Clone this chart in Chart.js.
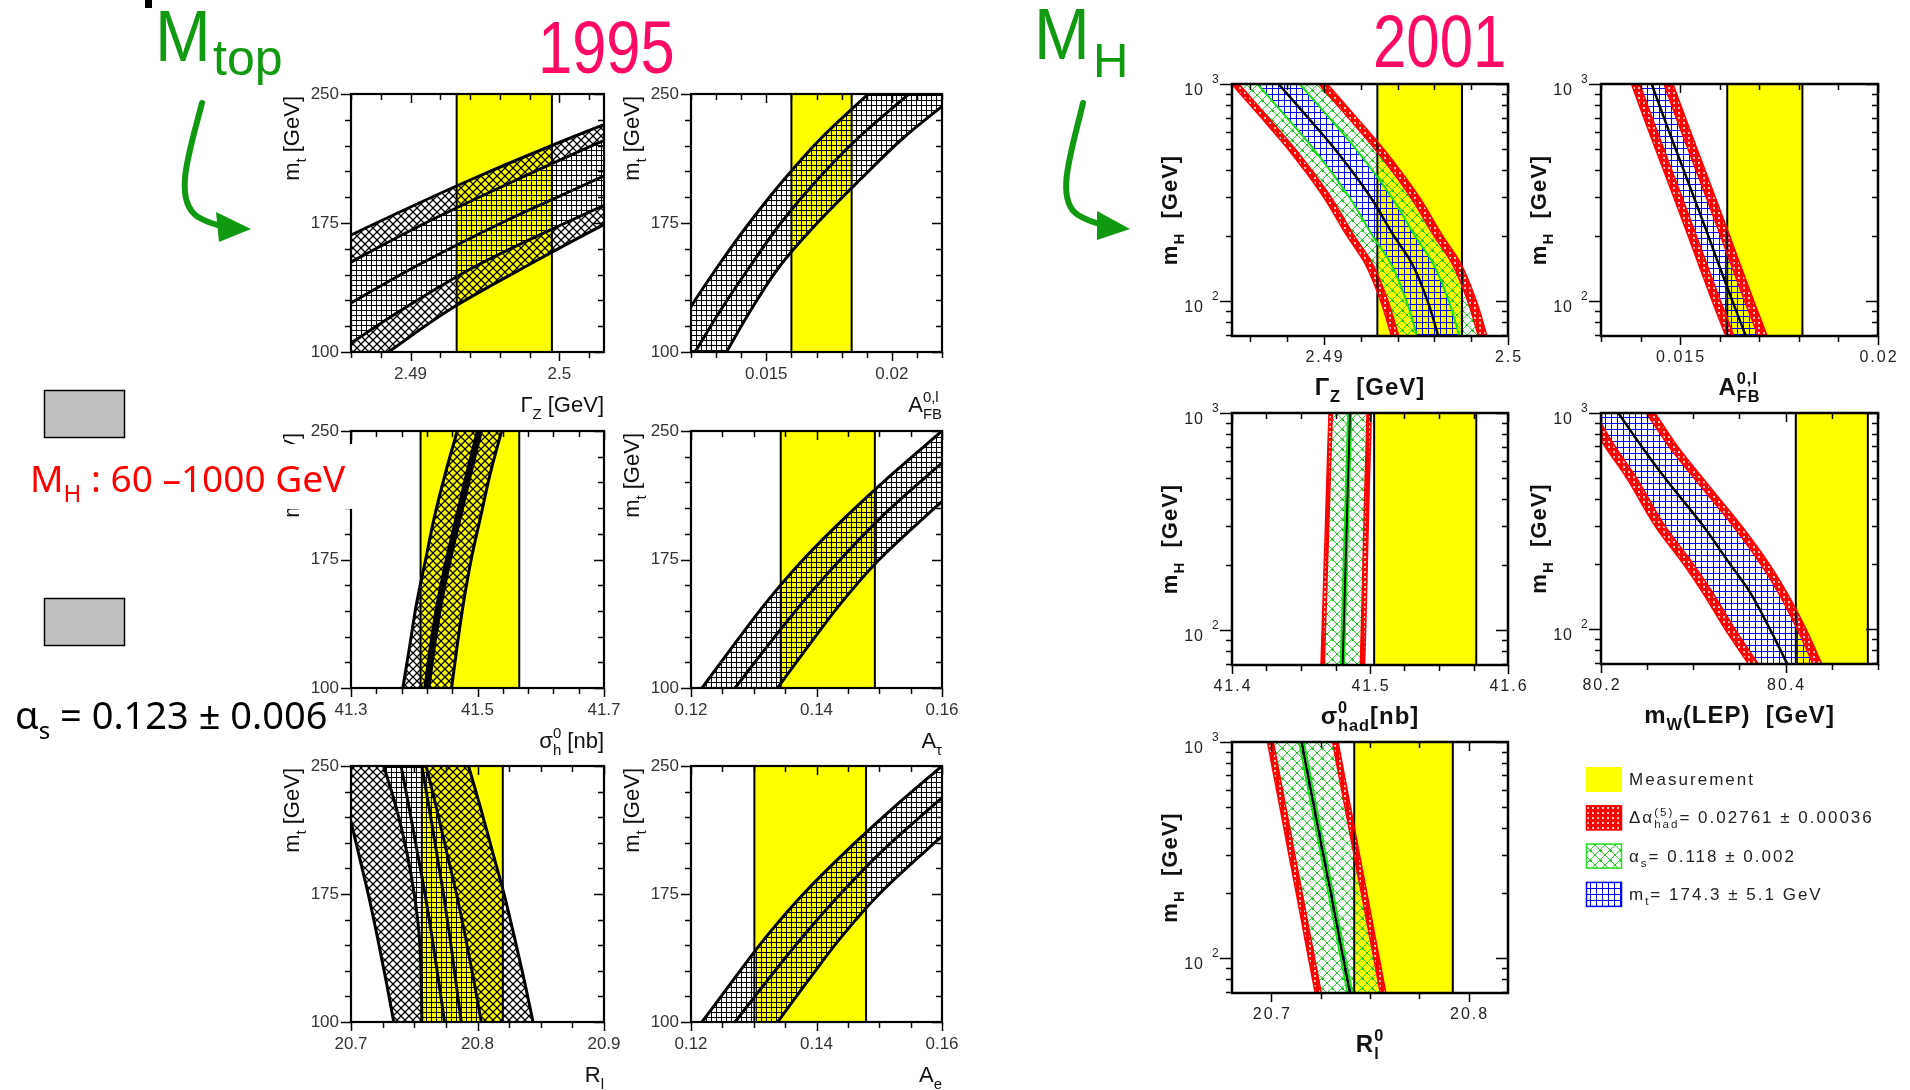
<!DOCTYPE html>
<html>
<head>
<meta charset="utf-8">
<title>Electroweak fits 1995 / 2001</title>
<script src="https://cdn.jsdelivr.net/npm/chart.js@4.4.1/dist/chart.umd.min.js"></script>
<style>
  html, body { margin: 0; padding: 0; background: #fff; }
  #page { position: relative; width: 1910px; height: 1090px; overflow: hidden; background: #fff; }
  #page canvas { position: absolute; }
  #deco { left: 0; top: 0; z-index: 5; pointer-events: none; }
</style>
</head>
<body>
<div id="page">
  <canvas id="deco" width="1910" height="1090"></canvas>
</div>
<script>
// y samples: m_t [GeV] for the 1995 plots, m_H [GeV] for the 2001 plots
const mt95 = [100, 125, 150, 175, 200, 225, 250];
const mH01 = [69, 100, 150, 200, 300, 500, 700, 1000];

// ---------- 1995 ----------
// Gamma_Z [GeV]
const gz95A = [2.4697, 2.4757, 2.4817, 2.4877, 2.4940, 2.5009, 2.5083];
const gz95B = [2.4750, 2.4802, 2.4855, 2.4910, 2.4971, 2.5035, 2.5100];
const gz95C = [2.4803, 2.4853, 2.4904, 2.4961, 2.5024, 2.5086, 2.5149];
const gz95D = [2.4851, 2.4895, 2.4944, 2.5004, 2.5068, 2.5133, 2.5200];
const gz95E = [2.4885, 2.4927, 2.4978, 2.5032, 2.5090, 2.5150, 2.5215];
const gz95Meas = [2.4931, 2.4995];
const gz95Ticks = [2.486, 2.488, 2.490, 2.492, 2.494, 2.496, 2.498, 2.500, 2.502];
const gz95Labels = [2.49, 2.5];

// A_FB^0,l
const afb95L = [0.01095, 0.01194, 0.01308, 0.01432, 0.01569, 0.01723, 0.01906];
const afb95C = [0.01216, 0.01321, 0.01436, 0.01558, 0.01702, 0.01870, 0.02068];
const afb95R = [0.01341, 0.01441, 0.01554, 0.01703, 0.01872, 0.02050, 0.02262];
const afb95Meas = [0.0160, 0.0184];
const afb95Ticks = [0.012, 0.013, 0.014, 0.015, 0.016, 0.017, 0.018, 0.019, 0.020, 0.021, 0.022];
const afb95Labels = [0.015, 0.02];

// sigma_h^0 [nb]
const sig95L = [41.382, 41.393, 41.404, 41.418, 41.432, 41.449, 41.468];
const sig95C = [41.420, 41.429, 41.440, 41.454, 41.470, 41.486, 41.503];
const sig95R = [41.459, 41.468, 41.478, 41.490, 41.505, 41.520, 41.538];
const sig95Meas = [41.410, 41.566];
const sig95Ticks = [41.30, 41.34, 41.38, 41.42, 41.46, 41.50, 41.54, 41.58, 41.62, 41.66, 41.70];
const sig95Labels = [41.3, 41.5, 41.7];

// A_tau and A_e share the same lepton asymmetry prediction
const al95L = [0.12176, 0.1268, 0.1320, 0.1379, 0.1447, 0.1521, 0.1600];
const al95C = [0.12702, 0.1323, 0.1378, 0.1438, 0.1504, 0.1580, 0.1659];
const al95R = [0.13379, 0.1388, 0.1440, 0.1500, 0.1573, 0.1651, 0.1732];
const atau95Meas = [0.1343, 0.1493];
const ae95Meas = [0.1301, 0.1479];
const al95Ticks = [0.12, 0.125, 0.13, 0.135, 0.14, 0.145, 0.15, 0.155, 0.16];
const al95Labels = [0.12, 0.14, 0.16];

// R_l
const rl95A = [20.7338, 20.7275, 20.7208, 20.7136, 20.7056, 20.6975, 20.6890];
const rl95B = [20.7560, 20.7555, 20.7540, 20.7500, 20.7440, 20.7360, 20.7259];
const rl95C = [20.7739, 20.7691, 20.7640, 20.7585, 20.7523, 20.7461, 20.7396];
const rl95D = [20.7871, 20.7827, 20.7781, 20.7731, 20.7675, 20.7619, 20.7560];
const rl95E = [20.8030, 20.7969, 20.7904, 20.7834, 20.7755, 20.7677, 20.7594];
const rl95F = [20.8439, 20.8368, 20.8291, 20.8210, 20.8118, 20.8026, 20.7929];
const rl95Meas = [20.756, 20.820];
const rl95Ticks = [20.7, 20.725, 20.75, 20.775, 20.8, 20.825, 20.85, 20.875, 20.9];
const rl95Labels = [20.7, 20.8, 20.9];

const mt95Ticks = [100, 115, 130, 145, 160, 175, 190, 205, 220, 235, 250];
const mt95Labels = [100, 175, 250];

// ---------- 2001 ----------
// Gamma_Z [GeV]
const gz01R1 = [2.49366, 2.49308, 2.49221, 2.49124, 2.48999, 2.48805, 2.48658, 2.48498];
const gz01R2 = [2.49406, 2.49348, 2.49261, 2.49164, 2.49039, 2.48845, 2.48698, 2.48538];
const gz01G1 = [2.49506, 2.49448, 2.49361, 2.49264, 2.49139, 2.48945, 2.48798, 2.48638];
const gz01C  = [2.49621, 2.49563, 2.49476, 2.49379, 2.49254, 2.49060, 2.48913, 2.48753];
const gz01G2 = [2.49736, 2.49678, 2.49591, 2.49494, 2.49369, 2.49175, 2.49028, 2.48868];
const gz01R3 = [2.49839, 2.49781, 2.49694, 2.49597, 2.49472, 2.49278, 2.49131, 2.48971];
const gz01R4 = [2.49886, 2.49828, 2.49741, 2.49644, 2.49519, 2.49325, 2.49178, 2.49018];
const gz01Meas = [2.4929, 2.4975];
const gz01Ticks = [2.486, 2.488, 2.490, 2.492, 2.494, 2.496, 2.498, 2.500];
const gz01Labels = [2.49, 2.5];

// A_FB^0,l
const afb01R1 = [0.01615, 0.01581, 0.01545, 0.01520, 0.01484, 0.01438, 0.01408, 0.01377];
const afb01R2 = [0.01636, 0.01602, 0.01566, 0.01541, 0.01505, 0.01459, 0.01429, 0.01398];
const afb01C  = [0.01666, 0.01632, 0.01596, 0.01571, 0.01535, 0.01489, 0.01459, 0.01428];
const afb01R3 = [0.01697, 0.01663, 0.01627, 0.01602, 0.01566, 0.01520, 0.01490, 0.01459];
const afb01R4 = [0.01720, 0.01686, 0.01650, 0.01625, 0.01589, 0.01543, 0.01513, 0.01482];
const afb01Meas = [0.01619, 0.01809];
const afb01Ticks = [0.013, 0.014, 0.015, 0.016, 0.017, 0.018, 0.019, 0.020];
const afb01Labels = [0.015, 0.02];

// sigma_had^0 [nb]
const sig01R1 = [41.4645, 41.4653, 41.4662, 41.4668, 41.4677, 41.4688, 41.4695, 41.4703];
const sig01R2 = [41.4669, 41.4677, 41.4686, 41.4692, 41.4701, 41.4712, 41.4719, 41.4727];
const sig01G1 = [41.4788, 41.4795, 41.4803, 41.4809, 41.4817, 41.4827, 41.4834, 41.4841];
const sig01C  = [41.4800, 41.4807, 41.4815, 41.4821, 41.4829, 41.4839, 41.4846, 41.4853];
const sig01G2 = [41.4812, 41.4819, 41.4827, 41.4833, 41.4841, 41.4851, 41.4858, 41.4865];
const sig01R3 = [41.4930, 41.4937, 41.4944, 41.4949, 41.4956, 41.4965, 41.4972, 41.4978];
const sig01R4 = [41.4961, 41.4968, 41.4975, 41.4980, 41.4987, 41.4996, 41.5003, 41.5009];
const sig01Meas = [41.503, 41.577];
const sig01Ticks = [41.4, 41.425, 41.45, 41.475, 41.5, 41.525, 41.55, 41.575, 41.6];
const sig01Labels = [41.4, 41.5, 41.6];

// m_W (LEP) [GeV]
const mw01R1 = [80.3596, 80.3343, 80.3090, 80.2892, 80.2585, 80.2278, 80.2043, 80.1827];
const mw01R2 = [80.3704, 80.3451, 80.3199, 80.3000, 80.2693, 80.2386, 80.2152, 80.1935];
const mw01C  = [80.4018, 80.3830, 80.3606, 80.3397, 80.3108, 80.2693, 80.2440, 80.2188];
const mw01R3 = [80.4296, 80.4126, 80.3910, 80.3729, 80.3430, 80.3007, 80.2736, 80.2491];
const mw01R4 = [80.4390, 80.4220, 80.4004, 80.3823, 80.3523, 80.3101, 80.2830, 80.2585];
const mw01Meas = [80.411, 80.489];
const mw01Ticks = [80.2, 80.25, 80.3, 80.35, 80.4, 80.45, 80.5];
const mw01Labels = [80.2, 80.4];

// R_l^0
const rl01R1 = [20.7222, 20.7188, 20.7152, 20.7126, 20.7089, 20.7043, 20.7012, 20.6980];
const rl01R2 = [20.7253, 20.7219, 20.7182, 20.7156, 20.7119, 20.7073, 20.7042, 20.7010];
const rl01G1 = [20.7386, 20.7352, 20.7315, 20.7289, 20.7251, 20.7204, 20.7173, 20.7141];
const rl01C  = [20.7398, 20.7364, 20.7327, 20.7301, 20.7263, 20.7216, 20.7185, 20.7153];
const rl01G2 = [20.7410, 20.7376, 20.7339, 20.7313, 20.7275, 20.7228, 20.7197, 20.7165];
const rl01R3 = [20.7552, 20.7519, 20.7482, 20.7456, 20.7419, 20.7373, 20.7342, 20.7310];
const rl01R4 = [20.7580, 20.7547, 20.7510, 20.7484, 20.7447, 20.7401, 20.7370, 20.7338];
const rl01Meas = [20.742, 20.792];
const rl01Ticks = [20.7, 20.725, 20.75, 20.775, 20.8];
const rl01Labels = [20.7, 20.8];

const mH01Ticks = [70, 80, 90, 100, 200, 300, 400, 500, 600, 700, 800, 900, 1000];
const mH01Labels = [100, 1000];

const legendTexts = [
  [['Measurement']],
  [['Δα'], ['(5)', 'stack', 'had'], ['= 0.02761 ± 0.00036']],
  [['α'], ['s', 'sub'], ['= 0.118 ± 0.002']],
  [['m'], ['t', 'sub'], ['= 174.3 ± 5.1 GeV']]
];

const FONT = '"Liberation Sans", Arial, Helvetica, sans-serif';
const YELLOW = '#ffff00';

// hatch patterns for the bands
function makePattern(size, paint) {
  const c = document.createElement('canvas');
  c.width = c.height = size;
  const g = c.getContext('2d');
  paint(g, size);
  return g.createPattern(c, 'repeat');
}
function crossLines(color, width) {
  return (g, s) => {
    g.strokeStyle = color; g.lineWidth = width;
    g.beginPath();
    g.moveTo(0, 0); g.lineTo(s, s);
    g.moveTo(s, 0); g.lineTo(0, s);
    g.stroke();
  };
}
const hatch = {
  diag: makePattern(8, crossLines('#000', 1.3)),
  grid: makePattern(5, (g, s) => { g.fillStyle = '#000'; g.fillRect(0, 0, s, 1); g.fillRect(0, 0, 1, s); }),
  red: makePattern(5, (g, s) => { g.fillStyle = '#ff0000'; g.fillRect(0, 0, s, s); g.fillStyle = '#ffc4c4'; g.fillRect(2, 2, 2, 2); }),
  green: makePattern(10, (g, s) => { crossLines('#22e022', 1)(g, s); g.fillStyle = '#22c022'; g.fillRect(0, 0, 2, 2); g.fillRect(4, 4, 2, 2); }),
  blue: makePattern(6, (g, s) => { g.fillStyle = '#0000ff'; g.fillRect(0, 0, s, 1); g.fillRect(0, 0, 1, s); })
};

const lineStyles = {
  b: { color: '#000', width: 3 },
  K: { color: '#000', width: 7 },
  k: { color: '#000', width: 2.5 },
  r: { color: '#ff0000', width: 1.5 },
  g: { color: '#11e011', width: 2 }
};

const sty01 = ['r', 'r', 'g', 'k', 'g', 'r', 'r'];
const bands01 = [[0, 1, 'red'], [1, 2, 'green'], [2, 4, 'blue'], [4, 5, 'green'], [5, 6, 'red']];
const sty01b = ['r', 'r', 'k', 'r', 'r'];
const bands01b = [[0, 1, 'red'], [1, 3, 'blue'], [3, 4, 'red']];

const panels = [
  // 1995 column 1
  { era: 95, left: 351, top: 94, w: 253, h: 258, x: [2.486, 2.503], xTicks: gz95Ticks, xLabels: gz95Labels,
    xTitle: [['Γ'], ['Z', 'sub'], [' [GeV]']], meas: gz95Meas,
    curves: [gz95A, gz95B, gz95C, gz95D, gz95E], styles: ['b', 'b', 'b', 'b', 'b'],
    bands: [[0, 1, 'diag'], [1, 3, 'grid'], [3, 4, 'diag']] },
  { era: 95, left: 351, top: 431, w: 253, h: 257, x: [41.3, 41.7], xTicks: sig95Ticks, xLabels: sig95Labels,
    xTitle: [['σ'], ['0', 'stack', 'h'], [' [nb]']], meas: sig95Meas,
    curves: [sig95L, sig95C, sig95R], styles: ['b', 'K', 'b'], bands: [[0, 2, 'diag']] },
  { era: 95, left: 351, top: 766, w: 253, h: 256, x: [20.7, 20.9], xTicks: rl95Ticks, xLabels: rl95Labels,
    xTitle: [['R'], ['l', 'sub']], meas: rl95Meas,
    curves: [rl95A, rl95B, rl95C, rl95D, rl95E, rl95F], styles: ['b', 'b', 'b', 'b', 'b', 'b'],
    bands: [[0, 1, 'diag'], [1, 4, 'grid'], [4, 5, 'diag']] },
  // 1995 column 2
  { era: 95, left: 691, top: 94, w: 251, h: 258, x: [0.012, 0.022], xTicks: afb95Ticks, xLabels: afb95Labels,
    xTitle: [['A'], ['0,l', 'stack', 'FB']], meas: afb95Meas,
    curves: [afb95L, afb95C, afb95R], styles: ['b', 'b', 'b'], bands: [[0, 2, 'grid']] },
  { era: 95, left: 691, top: 431, w: 251, h: 257, x: [0.12, 0.16], xTicks: al95Ticks, xLabels: al95Labels,
    xTitle: [['A'], ['τ', 'sub']], meas: atau95Meas,
    curves: [al95L, al95C, al95R], styles: ['b', 'b', 'b'], bands: [[0, 2, 'grid']] },
  { era: 95, left: 691, top: 766, w: 251, h: 256, x: [0.12, 0.16], xTicks: al95Ticks, xLabels: al95Labels,
    xTitle: [['A'], ['e', 'sub']], meas: ae95Meas,
    curves: [al95L, al95C, al95R], styles: ['b', 'b', 'b'], bands: [[0, 2, 'grid']] },
  // 2001 column 1
  { era: 1, left: 1232, top: 84, w: 276, h: 252, x: [2.485, 2.5], xTicks: gz01Ticks, xLabels: gz01Labels,
    xTitle: [['Γ'], ['Z', 'sub'], ['  [GeV]']], meas: gz01Meas,
    curves: [gz01R1, gz01R2, gz01G1, gz01C, gz01G2, gz01R3, gz01R4], styles: sty01, bands: bands01 },
  { era: 1, left: 1232, top: 413, w: 276, h: 252, x: [41.4, 41.6], xTicks: sig01Ticks, xLabels: sig01Labels,
    xTitle: [['σ'], ['0', 'stack', 'had'], ['[nb]']], meas: sig01Meas,
    curves: [sig01R1, sig01R2, sig01G1, sig01C, sig01G2, sig01R3, sig01R4], styles: sty01, bands: bands01 },
  { era: 1, left: 1232, top: 742, w: 276, h: 251, x: [20.68, 20.82], xTicks: rl01Ticks, xLabels: rl01Labels,
    xTitle: [['R'], ['0', 'stack', 'l']], meas: rl01Meas,
    curves: [rl01R1, rl01R2, rl01G1, rl01C, rl01G2, rl01R3, rl01R4], styles: sty01, bands: bands01 },
  // 2001 column 2
  { era: 1, left: 1601, top: 84, w: 277, h: 252, x: [0.013, 0.020], xTicks: afb01Ticks, xLabels: afb01Labels,
    xTitle: [['A'], ['0,l', 'stack', 'FB']], meas: afb01Meas,
    curves: [afb01R1, afb01R2, afb01C, afb01R3, afb01R4], styles: sty01b, bands: bands01b },
  { era: 1, left: 1601, top: 413, w: 277, h: 251, x: [80.2, 80.5], xTicks: mw01Ticks, xLabels: mw01Labels,
    xTitle: [['m'], ['W', 'sub'], ['(LEP)  [GeV]']], meas: mw01Meas,
    curves: [mw01R1, mw01R2, mw01C, mw01R3, mw01R4], styles: sty01b, bands: bands01b }
];

// ---- small rich-text helper: [text], [text,'sub'], [text,'sup'], [sup,'stack',sub] ----
function setFont(ctx, size, weight) { ctx.font = `${weight || 'normal'} ${size}px ${FONT}`; }
function richWidth(ctx, parts, size, weight) {
  let w = 0;
  for (const [t, kind, t2] of parts) {
    setFont(ctx, kind ? size * 0.68 : size, weight);
    w += kind === 'stack' ? Math.max(ctx.measureText(t).width, ctx.measureText(t2).width) : ctx.measureText(t).width;
  }
  return w;
}
function richDraw(ctx, parts, x, y, size, weight) {
  ctx.textAlign = 'left';
  ctx.textBaseline = 'alphabetic';
  for (const [t, kind, t2] of parts) {
    if (!kind) {
      setFont(ctx, size, weight);
      ctx.fillText(t, x, y);
      x += ctx.measureText(t).width;
    } else if (kind === 'sub' || kind === 'sup') {
      setFont(ctx, size * 0.68, weight);
      ctx.fillText(t, x, y + (kind === 'sub' ? size * 0.3 : -size * 0.45));
      x += ctx.measureText(t).width;
    } else {
      setFont(ctx, size * 0.68, weight);
      ctx.fillText(t, x, y - size * 0.45);
      ctx.fillText(t2, x, y + size * 0.3);
      x += Math.max(ctx.measureText(t).width, ctx.measureText(t2).width);
    }
  }
  return x;
}

// frame, mirrored ticks, tick labels and axis titles
function framePlugin(p) {
  const is95 = p.era === 95;
  return {
    id: 'frame',
    afterDatasetsDraw(chart) {
      const { ctx, chartArea: a, scales: { x, y } } = chart;
      const yTicks = is95 ? mt95Ticks : mH01Ticks;
      const yLabels = is95 ? mt95Labels : mH01Labels;
      ctx.save();
      ctx.strokeStyle = '#000';
      ctx.lineWidth = 1.5;
      ctx.beginPath();
      yTicks.forEach(v => {
        const py = Math.round(y.getPixelForValue(v)) + 0.5;
        const len = yLabels.includes(v) ? (is95 ? 10 : 12) : 6;
        ctx.moveTo(a.left - len, py); ctx.lineTo(a.left, py);
        ctx.moveTo(a.right - len, py); ctx.lineTo(a.right, py);
      });
      p.xTicks.forEach(v => {
        const px = Math.round(x.getPixelForValue(v)) + 0.5;
        const len = p.xLabels.includes(v) ? 9 : 6;
        ctx.moveTo(px, a.bottom); ctx.lineTo(px, a.bottom + len);
        ctx.moveTo(px, a.top); ctx.lineTo(px, a.top + len);
      });
      ctx.stroke();
      ctx.lineWidth = is95 ? 2.2 : 2.5;
      ctx.strokeRect(a.left, a.top, a.right - a.left, a.bottom - a.top);

      ctx.fillStyle = is95 ? '#333' : '#222';
      if (is95) {
        setFont(ctx, 17);
        ctx.textAlign = 'right'; ctx.textBaseline = 'middle';
        yLabels.forEach(v => ctx.fillText(String(v), a.left - 12, y.getPixelForValue(v)));
        ctx.textAlign = 'center';
        p.xLabels.forEach(v => ctx.fillText(String(v), x.getPixelForValue(v), a.bottom + 22));
        ctx.fillStyle = '#111';
        const tw = richWidth(ctx, p.xTitle, 22);
        richDraw(ctx, p.xTitle, a.right - tw, a.bottom + 60, 22);
        const yt = [['m'], ['t', 'sub'], [' [GeV]']];
        const yw = richWidth(ctx, yt, 22);
        ctx.save();
        ctx.translate(a.left - 52, a.top + 2);
        ctx.rotate(-Math.PI / 2);
        richDraw(ctx, yt, -yw, 0, 22);
        ctx.restore();
      } else {
        ctx.letterSpacing = '2px';
        setFont(ctx, 16);
        ctx.textAlign = 'center'; ctx.textBaseline = 'middle';
        p.xLabels.forEach(v => ctx.fillText(String(v), x.getPixelForValue(v) + 1, a.bottom + 22));
        ctx.letterSpacing = '1px';
        yLabels.forEach(v => {
          const py = y.getPixelForValue(v);
          setFont(ctx, 16);
          ctx.textAlign = 'right'; ctx.textBaseline = 'alphabetic';
          ctx.fillText('10', a.left - 28, py + 11);
          setFont(ctx, 12);
          ctx.textAlign = 'left';
          ctx.fillText(v === 1000 ? '3' : '2', a.left - 20, py - 1);
        });
        ctx.fillStyle = '#111';
        const tw = richWidth(ctx, p.xTitle, 24, 'bold');
        richDraw(ctx, p.xTitle, (a.left + a.right) / 2 - tw / 2, a.bottom + 59, 24, 'bold');
        const yt = [['m'], ['H', 'sub'], ['  [GeV]']];
        const yw = richWidth(ctx, yt, 22, 'bold');
        ctx.save();
        ctx.translate(a.left - 55, (a.top + a.bottom) / 2);
        ctx.rotate(-Math.PI / 2);
        richDraw(ctx, yt, -yw / 2, 0, 22, 'bold');
        ctx.restore();
        ctx.letterSpacing = '0px';
      }
      ctx.restore();
    }
  };
}

function buildDatasets(p) {
  const ys = p.era === 95 ? mt95 : mH01;
  const ds = p.curves.map((xs, i) => {
    const st = lineStyles[p.styles[i]];
    return {
      data: xs.map((x, k) => ({ x, y: ys[k] })),
      borderColor: st.color, borderWidth: st.width,
      pointRadius: 0, cubicInterpolationMode: 'monotone',
      fill: false, backgroundColor: 'rgba(0,0,0,0)'
    };
  });
  p.bands.forEach(([a, b, pat]) => { ds[a].fill = b; ds[a].backgroundColor = hatch[pat]; });
  const n = ds.length;
  const ends = [ys[0], ys[ys.length - 1]];
  // measurement band sits last so it is painted first (underneath)
  ds.push({ data: ends.map(y => ({ x: p.meas[0], y })), borderColor: '#000', borderWidth: 2,
            pointRadius: 0, fill: n + 1, backgroundColor: YELLOW });
  ds.push({ data: ends.map(y => ({ x: p.meas[1], y })), borderColor: '#000', borderWidth: 2,
            pointRadius: 0, fill: false });
  return ds;
}

const page = document.getElementById('page');
panels.forEach(p => {
  const pad = { left: 110, right: 34, top: 14, bottom: 80 };
  const cv = document.createElement('canvas');
  const cw = p.w + pad.left + pad.right, ch = p.h + pad.top + pad.bottom;
  cv.width = cw; cv.height = ch;
  cv.style.width = cw + 'px'; cv.style.height = ch + 'px';
  cv.style.left = (p.left - pad.left) + 'px';
  cv.style.top = (p.top - pad.top) + 'px';
  page.appendChild(cv);
  const ys = p.era === 95 ? mt95 : mH01;
  new Chart(cv, {
    type: 'line',
    data: { datasets: buildDatasets(p) },
    options: {
      responsive: false, animation: false, devicePixelRatio: 1, indexAxis: 'y', events: [],
      layout: { padding: pad },
      scales: {
        x: { type: 'linear', min: p.x[0], max: p.x[1], display: false },
        y: { type: p.era === 95 ? 'linear' : 'logarithmic', min: ys[0], max: ys[ys.length - 1], display: false }
      },
      elements: { line: { capBezierPoints: false } },
      plugins: {
        legend: { display: false }, tooltip: { enabled: false },
        filler: { drawTime: 'beforeDatasetsDraw', propagate: false }
      }
    },
    plugins: [framePlugin(p)]
  });
});

// ---- headings, arrows, legend boxes and notes ----
const d = document.getElementById('deco').getContext('2d');
const GREEN = '#119a11', PINK = '#ff0a64';

function bigText(txt, x, y, size, color, sx) {
  d.save();
  d.fillStyle = color;
  d.font = `${size}px ${FONT}`;
  d.textAlign = 'left'; d.textBaseline = 'alphabetic';
  d.translate(x, y); d.scale(sx, 1);
  d.fillText(txt, 0, 0);
  d.restore();
}
d.fillStyle = '#000';
d.fillRect(145, 0, 7, 8);
bigText('M', 155, 61, 72, GREEN, 0.93);
bigText('top', 213, 75, 50, GREEN, 1);
bigText('1995', 538, 73, 74, PINK, 0.83);
bigText('M', 1034, 59, 72, GREEN, 0.93);
bigText('H', 1093, 77, 49, GREEN, 1);
bigText('2001', 1373, 67, 74, PINK, 0.81);

function arrow(path, head) {
  d.save();
  d.strokeStyle = GREEN; d.fillStyle = GREEN;
  d.lineWidth = 6; d.lineCap = 'round';
  d.beginPath(); path(); d.stroke();
  d.beginPath(); d.moveTo(...head[0]); d.lineTo(...head[1]); d.lineTo(...head[2]); d.closePath(); d.fill();
  d.restore();
}
arrow(() => { d.moveTo(202, 103); d.bezierCurveTo(190, 150, 172, 200, 198, 217); d.quadraticCurveTo(208, 223, 222, 226); },
      [[216, 212], [219, 242], [251, 229]]);
arrow(() => { d.moveTo(1083, 103); d.bezierCurveTo(1072, 150, 1054, 200, 1078, 215); d.quadraticCurveTo(1088, 221, 1100, 224); },
      [[1097, 211], [1097, 240], [1130, 229]]);

// grey key boxes
[[44, 390], [44, 598]].forEach(([bx, by]) => {
  d.fillStyle = '#c0c0c0'; d.fillRect(bx, by, 80, 47);
  d.strokeStyle = '#000'; d.lineWidth = 1.5; d.strokeRect(bx + 0.5, by + 0.5, 80, 47);
});

// note on the Higgs mass range (sits on a white strip)
d.fillStyle = '#fff';
d.fillRect(20, 444, 333, 65);
d.fillStyle = '#ff0000';
d.font = `37px "Noto Sans", "Open Sans", sans-serif`;
d.fillText('M', 30, 492);
let nx = 30 + d.measureText('M').width;
d.font = `24px "Noto Sans", "Open Sans", sans-serif`;
d.fillText('H', nx, 502);
nx += d.measureText('H').width;
d.font = `37px "Noto Sans", "Open Sans", sans-serif`;
d.fillText(' : 60 –1000 GeV', nx, 492);

d.fillStyle = '#000';
d.font = `38px "Noto Sans", "Open Sans", sans-serif`;
d.fillText('α', 15, 729);
nx = 15 + d.measureText('α').width;
d.font = `24px "Noto Sans", "Open Sans", sans-serif`;
d.fillText('s', nx, 739);
nx += d.measureText('s').width;
d.font = `38px "Noto Sans", "Open Sans", sans-serif`;
d.fillText(' = 0.123 ± 0.006', nx, 729);

// 2001 legend
const legendFills = [YELLOW, hatch.red, hatch.green, hatch.blue];
const legendEdges = [null, '#ff0000', '#22dd22', '#0000ff'];
legendTexts.forEach((parts, i) => {
  const by = 767 + i * 38.3;
  d.fillStyle = '#fff'; d.fillRect(1586, by, 36, 25);
  d.fillStyle = legendFills[i]; d.fillRect(1586, by, 36, 25);
  if (legendEdges[i]) { d.strokeStyle = legendEdges[i]; d.lineWidth = 1.5; d.strokeRect(1586.5, by + 0.5, 35, 24); }
  d.fillStyle = '#222';
  d.letterSpacing = '2px';
  richDraw(d, parts, 1629, by + 18, 17);
  d.letterSpacing = '0px';
});
</script>
</body>
</html>
